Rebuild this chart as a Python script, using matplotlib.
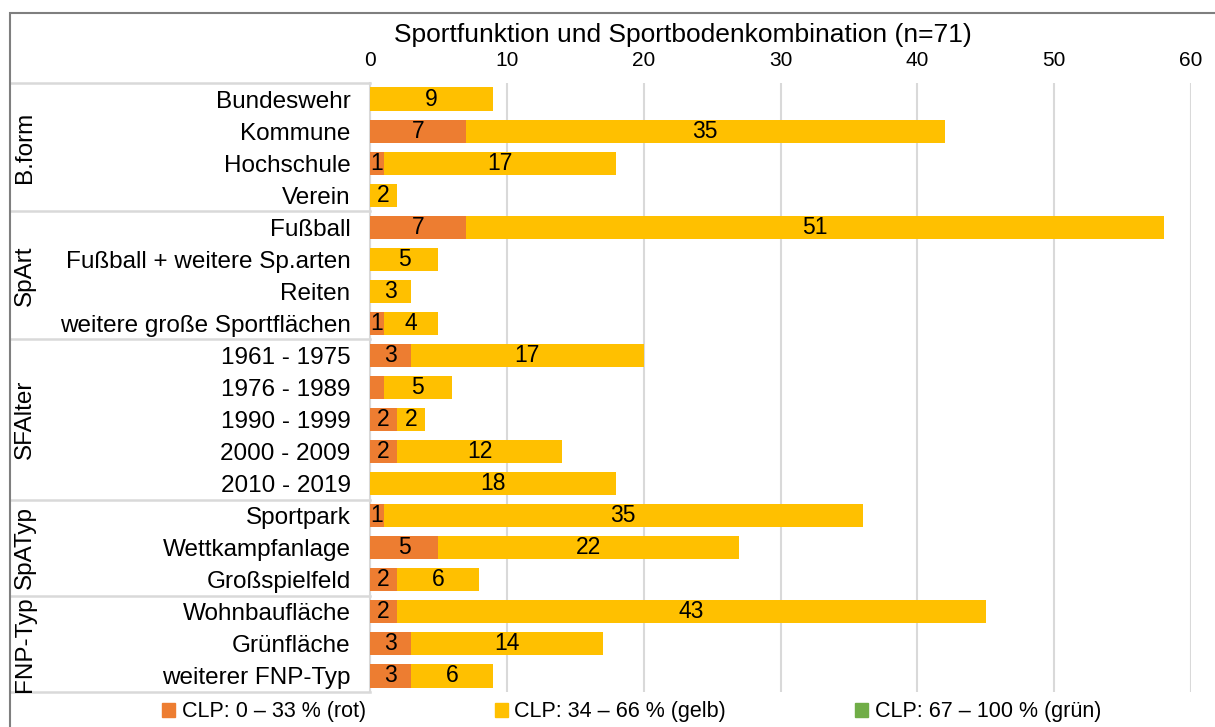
import matplotlib.pyplot as plt
from matplotlib.patches import Patch, Rectangle
from matplotlib.transforms import blended_transform_factory

plt.rcParams['font.family'] = ['Liberation Sans', 'DejaVu Sans']

# Daten
groups = ["B.form", "SpArt", "SFAlter", "SpATyp", "FNP-Typ"]
group_sizes = [4, 4, 5, 3, 3]
categories = ["Bundeswehr", "Kommune", "Hochschule", "Verein",
              "Fußball", "Fußball + weitere Sp.arten", "Reiten", "weitere große Sportflächen",
              "1961 - 1975", "1976 - 1989", "1990 - 1999", "2000 - 2009", "2010 - 2019",
              "Sportpark", "Wettkampfanlage", "Großspielfeld",
              "Wohnbaufläche", "Grünfläche", "weiterer FNP-Typ"]
rot = [0, 7, 1, 0, 7, 0, 0, 1, 3, 1, 2, 2, 0, 1, 5, 2, 2, 3, 3]
gelb = [9, 35, 17, 2, 51, 5, 3, 4, 17, 5, 2, 12, 18, 35, 22, 6, 43, 14, 6]
gruen = [0] * 19
rot_labels = ["", "7", "1", "", "7", "", "", "1", "3", "", "2", "2", "", "1", "5", "2", "2", "3", "3"]

c_rot = "#ED7D31"
c_gelb = "#FFC000"
c_gruen = "#70AD47"

fig = plt.figure(figsize=(12.15, 7.27), dpi=100)
ax = fig.add_axes([370 / 1215, 1 - 692 / 727, (1191 - 370) / 1215, (692 - 83) / 727])

y = list(range(len(categories)))
ax.barh(y, rot, height=0.72, color=c_rot, zorder=3)
ax.barh(y, gelb, left=rot, height=0.72, color=c_gelb, zorder=3)
left2 = [a + b for a, b in zip(rot, gelb)]
ax.barh(y, gruen, left=left2, height=0.72, color=c_gruen, zorder=3)

# Beschriftungen in den Balken
for i in y:
    if rot_labels[i]:
        ax.text(rot[i] / 2, i, rot_labels[i], ha="center", va="center", fontsize=16.5, zorder=4)
    if gelb[i] > 0:
        ax.text(rot[i] + gelb[i] / 2, i, str(gelb[i]), ha="center", va="center", fontsize=16.5, zorder=4)

ax.set_xlim(0, 60)
ax.set_ylim(len(categories) - 0.5, -0.5)
ax.set_xticks(range(0, 61, 10))
ax.xaxis.tick_top()
ax.tick_params(axis="x", length=0, labelsize=15, pad=9)
ax.set_yticks(y)
ax.set_yticklabels(categories, fontsize=17.5)
ax.tick_params(axis="y", length=0, pad=14)
ax.grid(axis="x", color="#d9d9d9", lw=1.5, zorder=0)
for s in ["top", "right", "bottom"]:
    ax.spines[s].set_visible(False)
ax.spines["left"].set_color("#d9d9d9")
ax.spines["left"].set_linewidth(1.5)

# Tabellenlinien und Gruppenbeschriftungen
tr = blended_transform_factory(fig.transFigure, ax.transData)
bounds = [-0.5]
for n in group_sizes:
    bounds.append(bounds[-1] + n)
for b in bounds:
    ax.plot([10 / 1215, 370 / 1215], [b, b], transform=tr, color="#d9d9d9", lw=1.8, clip_on=False)
for g, lo, hi in zip(groups, bounds[:-1], bounds[1:]):
    ax.text(25 / 1215, (lo + hi) / 2, g, transform=tr, rotation=90, ha="center", va="center", fontsize=17.5)

fig.text(0.562, 1 - 35 / 727, "Sportfunktion und Sportbodenkombination (n=71)", ha="center", va="center", fontsize=19)

# Rahmen
fig.add_artist(Rectangle((10 / 1215, -0.1), 1.2, 1 - 13 / 727 + 0.1, transform=fig.transFigure,
                         fill=False, edgecolor="#7f7f7f", lw=1.5))

handles = [Patch(color=c_rot), Patch(color=c_gelb), Patch(color=c_gruen)]
labels = ["CLP: 0 – 33 % (rot)", "CLP: 34 – 66 % (gelb)", "CLP: 67 – 100 % (grün)"]
fig.legend(handles, labels, loc="center", bbox_to_anchor=(0.52, 1 - 712 / 727), ncol=3, frameon=False,
           fontsize=15.5, handlelength=0.6, handleheight=0.6, handletextpad=0.3, columnspacing=6.0)

plt.savefig("out.png", dpi=100)
